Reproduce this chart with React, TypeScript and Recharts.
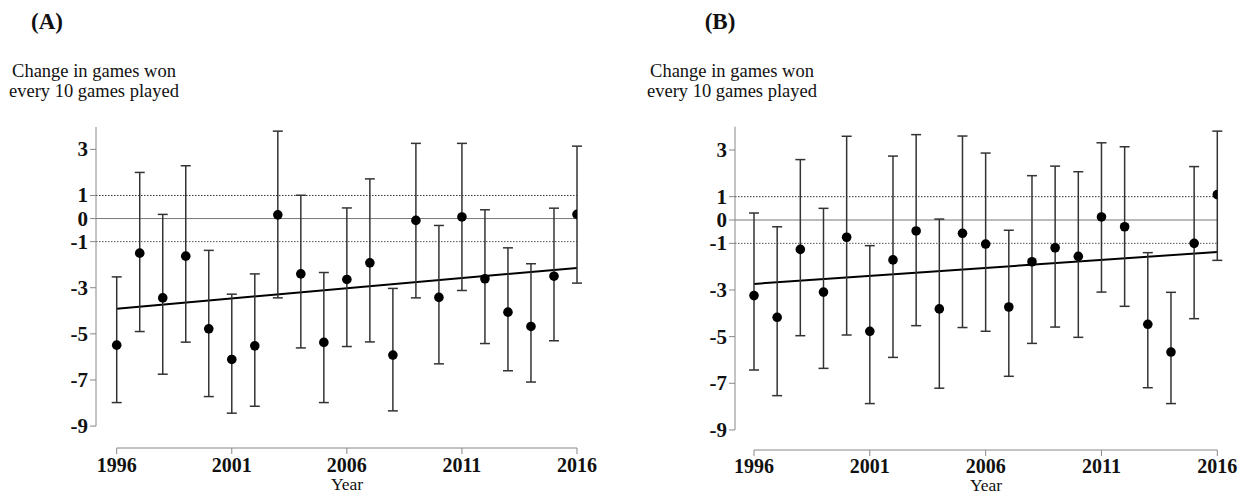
import React from 'react';
import { ComposedChart, Scatter, ErrorBar, XAxis, YAxis, ReferenceLine } from 'recharts';

const years = [1996, 1997, 1998, 1999, 2000, 2001, 2002, 2003, 2004, 2005, 2006, 2007, 2008, 2009, 2010, 2011, 2012, 2013, 2014, 2015, 2016];
const xTicks = [1996, 2001, 2006, 2011, 2016];
const yTicks = [-9, -7, -5, -3, -1, 0, 1, 3];

const pointsA = [-5.49, -1.5, -3.44, -1.63, -4.78, -6.11, -5.52, 0.16, -2.4, -5.37, -2.64, -1.92, -5.92, -0.08, -3.42, 0.07, -2.61, -4.06, -4.68, -2.5, 0.18];
const lowA = [-7.98, -4.9, -6.75, -5.36, -7.72, -8.44, -8.14, -3.44, -5.61, -7.98, -5.55, -5.35, -8.34, -3.44, -6.3, -3.12, -5.42, -6.6, -7.09, -5.3, -2.8];
const highA = [-2.53, 2.0, 0.18, 2.29, -1.38, -3.28, -2.4, 3.79, 1.01, -2.34, 0.46, 1.72, -3.03, 3.26, -0.3, 3.26, 0.38, -1.27, -1.96, 0.45, 3.14];
const trendA = [-3.91, -2.14];

const pointsB = [-3.24, -4.17, -1.26, -3.09, -0.74, -4.77, -1.71, -0.47, -3.81, -0.57, -1.03, -3.73, -1.79, -1.19, -1.56, 0.13, -0.29, -4.47, -5.66, -1.0, 1.09];
const lowB = [-6.43, -7.53, -4.96, -6.36, -4.93, -7.87, -5.89, -4.53, -7.21, -4.61, -4.77, -6.7, -5.29, -4.59, -5.03, -3.09, -3.7, -7.19, -7.87, -4.23, -1.73];
const highB = [0.3, -0.29, 2.59, 0.5, 3.59, -1.1, 2.74, 3.66, 0.04, 3.6, 2.87, -0.44, 1.9, 2.31, 2.07, 3.31, 3.14, -1.4, -3.1, 2.29, 3.81];
const trendB = [-2.74, -1.37];

const FONT = '"Liberation Serif", "Times New Roman", serif';

function buildData(points: number[], low: number[], high: number[]) {
  return years.map((yr, i) => ({
    year: yr,
    value: points[i],
    err: [points[i] - low[i], high[i] - points[i]],
  }));
}

const Dot = (props: any) => {
  const { cx, cy } = props;
  if (cx == null || cy == null) return null;
  return <circle cx={cx} cy={cy} r={4.8} fill="#000" />;
};

const makeXTick = (dy: number) => (props: any) => {
  const { x, y, payload } = props;
  return (
    <text x={x} y={y} dy={dy} textAnchor="middle" fontFamily={FONT} fontWeight="bold" fontSize={20} fill="#111">
      {payload.value}
    </text>
  );
};

const YTick = (props: any) => {
  const { x, y, payload } = props;
  return (
    <text x={x} y={y} dy={7} textAnchor="end" fontFamily={FONT} fontWeight="bold" fontSize={21} fill="#111">
      {payload.value}
    </text>
  );
};

type PanelProps = {
  left: number;
  width: number;
  marginRight: number;
  xMin: number;
  yDomain: [number, number];
  plotTop: number;
  xAxisHeight: number;
  tickDy: number;
  data: any[];
  trend: number[];
};

function Panel({ left, width, marginRight, xMin, yDomain, plotTop, xAxisHeight, tickDy, data, trend }: PanelProps) {
  const XTick = makeXTick(tickDy);
  return (
    <div style={{ position: 'absolute', left, top: 0 }}>
      <ComposedChart
        width={width}
        height={494}
        data={data}
        margin={{ top: plotTop, right: marginRight, bottom: 0, left: 0 }}
      >
        <XAxis
          dataKey="year"
          type="number"
          domain={[xMin, 2016]}
          allowDataOverflow
          ticks={xTicks}
          axisLine={false}
          tickLine={{ stroke: '#888' }}
          tickSize={6}
          tickMargin={2}
          height={xAxisHeight}
          tick={<XTick />}
          interval={0}
        />
        <YAxis
          type="number"
          domain={yDomain}
          allowDataOverflow
          ticks={yTicks}
          axisLine={false}
          tickLine={{ stroke: '#888' }}
          tickSize={6}
          tickMargin={2}
          width={96}
          tick={<YTick />}
          interval={0}
        />
        <ReferenceLine y={1} stroke="#333" strokeDasharray="1.5 1.5" strokeWidth={1} />
        <ReferenceLine y={0} stroke="#777" strokeWidth={1} />
        <ReferenceLine y={-1} stroke="#555" strokeDasharray="1.5 1.5" strokeWidth={1} />
        <ReferenceLine
          segment={[{ x: xMin, y: -9 }, { x: xMin, y: yDomain[1] }]}
          stroke="#888"
          strokeWidth={1}
          ifOverflow="visible"
        />
        <ReferenceLine
          segment={[{ x: 1996, y: yDomain[0] }, { x: 2016, y: yDomain[0] }]}
          stroke="#888"
          strokeWidth={1}
          ifOverflow="visible"
        />
        <ReferenceLine
          segment={[{ x: 1996, y: trend[0] }, { x: 2016, y: trend[1] }]}
          stroke="#000"
          strokeWidth={2}
          ifOverflow="visible"
        />
        <Scatter dataKey="value" shape={<Dot />} isAnimationActive={false}>
          <ErrorBar dataKey="err" direction="y" width={5} stroke="#333" strokeWidth={1.5} />
        </Scatter>
      </ComposedChart>
    </div>
  );
}

export default function App() {
  const dataA = buildData(pointsA, lowA, highA);
  const dataB = buildData(pointsB, lowB, highB);
  return (
    <div style={{ position: 'absolute', left: 0, top: 0, width: 1255, height: 494, background: '#fff', overflow: 'hidden' }}>
      <Panel left={0} width={620} marginRight={43} xMin={1995.1} yDomain={[-9.95, 3.97]} plotTop={127} xAxisHeight={46} tickDy={16} data={dataA} trend={trendA} />
      <Panel left={639} width={616} marginRight={37.7} xMin={1995.18} yDomain={[-9.86, 4.0]} plotTop={126.7} xAxisHeight={44} tickDy={15} data={dataB} trend={trendB} />
      <svg width={1255} height={494} style={{ position: 'absolute', left: 0, top: 0, pointerEvents: 'none' }}>
        <g fontFamily={FONT} fill="#111">
          <text x={47} y={29} textAnchor="middle" fontWeight="bold" fontSize={23}>(A)</text>
          <text x={720} y={29} textAnchor="middle" fontWeight="bold" fontSize={23}>(B)</text>
          <text x={94} y={77} textAnchor="middle" fontSize={18.5}>Change in games won</text>
          <text x={94} y={97} textAnchor="middle" fontSize={18.5}>every 10 games played</text>
          <text x={732} y={77} textAnchor="middle" fontSize={18.5}>Change in games won</text>
          <text x={732} y={97} textAnchor="middle" fontSize={18.5}>every 10 games played</text>
          <text x={347} y={490} textAnchor="middle" fontSize={17.5}>Year</text>
          <text x={986} y={491} textAnchor="middle" fontSize={17.5}>Year</text>
        </g>
      </svg>
    </div>
  );
}
